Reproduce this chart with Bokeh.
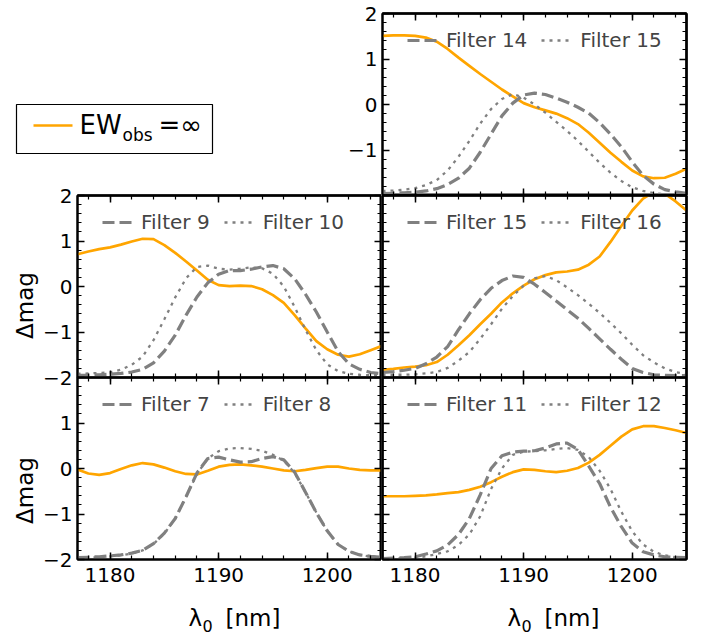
import math
from bokeh.plotting import figure
from bokeh.models import Range1d, LinearAxis, FixedTicker, Legend, LegendItem, Label
from bokeh.layouts import row, column
from bokeh.core.properties import value
from bokeh.embed import file_html
from bokeh.resources import INLINE

FONT = "DejaVu Sans"
ORANGE = "#FFA500"
GRAY = "#808080"

# ---------------- data ----------------
wavelength = [1177, 1178, 1179, 1180, 1181, 1182, 1183, 1184, 1185, 1186,
              1187, 1188, 1189, 1190, 1191, 1192, 1193, 1194, 1195, 1196,
              1197, 1198, 1199, 1200, 1201, 1202, 1203, 1204, 1205]

# top-right panel
ew_tr = [1.51, 1.52, 1.52, 1.51, 1.47, 1.38, 1.22, 1.03, 0.85, 0.67, 0.50, 0.33, 0.18, 0.03,
         -0.06, -0.13, -0.20, -0.30, -0.43, -0.62, -0.84, -1.06, -1.26, -1.45, -1.58, -1.62,
         -1.61, -1.52, -1.41]
filter14 = [-1.96, -1.95, -1.94, -1.93, -1.90, -1.85, -1.76, -1.62, -1.40, -1.05, -0.65, -0.25,
            0.03, 0.21, 0.25, 0.22, 0.14, 0.05, -0.06, -0.19, -0.40, -0.65, -0.93, -1.26, -1.56,
            -1.75, -1.87, -1.92, -1.95]
filter15_tr = [-1.90, -1.89, -1.87, -1.84, -1.77, -1.66, -1.45, -1.15, -0.80, -0.42, -0.10, 0.12,
               0.23, 0.15, 0.00, -0.18, -0.38, -0.58, -0.80, -1.04, -1.28, -1.50, -1.68, -1.82,
               -1.90, -1.95, -1.97, -1.98, -1.98]

# middle-left panel
ew_ml = [0.71, 0.77, 0.82, 0.86, 0.92, 0.99, 1.05, 1.04, 0.91, 0.74, 0.55, 0.35, 0.15, 0.03, 0.01,
         0.02, 0.01, -0.06, -0.19, -0.36, -0.63, -0.92, -1.20, -1.38, -1.50, -1.54, -1.49, -1.40,
         -1.31]
filter9 = [-1.95, -1.95, -1.94, -1.93, -1.91, -1.88, -1.82, -1.68, -1.42, -1.07, -0.63, -0.23, 0.08,
           0.27, 0.35, 0.35, 0.38, 0.43, 0.46, 0.39, 0.17, -0.17, -0.56, -1.00, -1.43, -1.70, -1.82,
           -1.89, -1.92]
filter10 = [-1.92, -1.91, -1.90, -1.89, -1.83, -1.72, -1.54, -1.18, -0.72, -0.24, 0.18, 0.43, 0.46,
            0.39, 0.37, 0.39, 0.42, 0.40, 0.28, 0.00, -0.45, -0.95, -1.40, -1.71, -1.86, -1.92,
            -1.94, -1.95, -1.95]

# middle-right panel
ew_mr = [-1.83, -1.81, -1.78, -1.76, -1.73, -1.66, -1.50, -1.29, -1.07, -0.83, -0.60, -0.35, -0.15,
         0.02, 0.16, 0.25, 0.31, 0.33, 0.37, 0.48, 0.66, 0.98, 1.33, 1.67, 1.93, 2.08, 2.04, 1.87,
         1.67]
filter15_mr = [-1.89, -1.87, -1.84, -1.80, -1.70, -1.55, -1.32, -0.95, -0.60, -0.29, -0.04, 0.13,
               0.23, 0.20, 0.05, -0.13, -0.32, -0.51, -0.70, -0.92, -1.15, -1.38, -1.60, -1.80,
               -1.89, -1.94, -1.95, -1.96, -1.96]
filter16 = [-1.94, -1.94, -1.94, -1.93, -1.91, -1.88, -1.79, -1.63, -1.44, -1.15, -0.83, -0.49,
            -0.21, 0.02, 0.18, 0.23, 0.14, -0.02, -0.19, -0.38, -0.58, -0.80, -1.03, -1.28, -1.51,
            -1.67, -1.80, -1.88, -1.93]

# bottom-left panel
ew_bl = [-0.02, -0.11, -0.14, -0.10, -0.01, 0.07, 0.12, 0.09, 0.02, -0.06, -0.12, -0.13, -0.05,
         0.04, 0.08, 0.09, 0.07, 0.04, 0.00, -0.04, -0.06, -0.03, 0.01, 0.04, 0.04, 0.00, -0.03,
         -0.04, -0.04]
filter7 = [-1.96, -1.95, -1.94, -1.92, -1.90, -1.86, -1.80, -1.65, -1.42, -1.10, -0.62, -0.10, 0.22,
           0.25, 0.19, 0.14, 0.15, 0.22, 0.26, 0.19, -0.08, -0.52, -0.97, -1.37, -1.67, -1.82,
           -1.90, -1.93, -1.95]
filter8 = [-1.97, -1.96, -1.95, -1.93, -1.91, -1.87, -1.80, -1.66, -1.43, -1.10, -0.62, -0.12, 0.22,
           0.38, 0.44, 0.45, 0.43, 0.39, 0.30, 0.17, -0.10, -0.52, -0.97, -1.37, -1.67, -1.82,
           -1.90, -1.94, -1.96]

# bottom-right panel
ew_br = [-0.61, -0.61, -0.61, -0.60, -0.59, -0.57, -0.54, -0.52, -0.47, -0.40, -0.30, -0.18, -0.08,
         -0.02, -0.03, -0.06, -0.08, -0.05, 0.01, 0.13, 0.30, 0.50, 0.70, 0.86, 0.93, 0.93, 0.89,
         0.84, 0.78]
filter11 = [-1.98, -1.97, -1.96, -1.94, -1.88, -1.81, -1.68, -1.45, -1.10, -0.58, 0.00, 0.28, 0.36,
            0.38, 0.39, 0.45, 0.54, 0.56, 0.42, 0.05, -0.33, -0.85, -1.28, -1.64, -1.83, -1.90,
            -1.94, -1.95, -1.96]
filter12 = [-1.98, -1.98, -1.97, -1.96, -1.93, -1.88, -1.82, -1.68, -1.45, -1.05, -0.45, 0.00, 0.30,
            0.37, 0.38, 0.40, 0.43, 0.45, 0.41, 0.25, -0.05, -0.45, -0.95, -1.38, -1.67, -1.83,
            -1.91, -1.95, -1.96]

# ticks and labels
x_major = [1180, 1190, 1200]
x_minor = [1178, 1180, 1182, 1184, 1186, 1188, 1190, 1192, 1194, 1196, 1198, 1200, 1202, 1204]
y_major = [-2, -1, 0, 1, 2]
y_minor = [-2.0, -1.8, -1.6, -1.4, -1.2, -1.0, -0.8, -0.6, -0.4, -0.2, 0.0,
           0.2, 0.4, 0.6, 0.8, 1.0, 1.2, 1.4, 1.6, 1.8, 2.0]
y_major_tr = [-1, 0, 1, 2]        # labelled ticks of the top-right panel
y_major_bl = [-2, -1, 0, 1]       # labelled ticks of the bottom-left panel
y_label_map = {2: "2", 1: "1", 0: "0", -1: "\u22121", -2: "\u22122"}
x_label_parts = ["\u03bb", "0", "[nm]"]
y_label_text = "\u0394mag"
legend_text_main = ["EW", "obs", "=\u221e"]


def base_axis(ax):
    ax.axis_line_width = 2
    ax.axis_line_color = "black"
    ax.major_tick_out = 0
    ax.minor_tick_out = 0
    ax.major_tick_line_color = "black"
    ax.minor_tick_line_color = "black"
    ax.major_label_standoff = 0


def labelled_axis(ticks, minor, standoff, overrides=None):
    ax = LinearAxis(ticker=FixedTicker(ticks=ticks, minor_ticks=minor))
    base_axis(ax)
    ax.major_tick_in = 7
    ax.minor_tick_in = 4
    ax.major_tick_line_width = 1.5
    ax.minor_tick_line_width = 1.2
    ax.major_label_text_font = FONT
    ax.major_label_text_font_size = "20px"
    ax.major_label_text_color = "black"
    ax.major_label_standoff = standoff
    if overrides is not None:
        ax.major_label_overrides = overrides
    return ax


def tick_only_axis(positions, length, width):
    ax = LinearAxis(ticker=FixedTicker(ticks=[], minor_ticks=positions))
    base_axis(ax)
    ax.major_tick_in = 0
    ax.minor_tick_in = length
    ax.minor_tick_line_width = width
    return ax


def add_unlabelled_side(p, side, major, minor):
    p.add_layout(tick_only_axis(major, 7, 1.5), side)
    p.add_layout(tick_only_axis(minor, 4, 1.2), side)


def panel(ew, fa, fb, la, lb, width, height, bl, br, bt, bb,
          xlabels=False, yticks=None, margin=None):
    kw = {}
    if margin is not None:
        kw["margin"] = margin
    p = figure(width=width, height=height,
               x_range=Range1d(1177, 1205), y_range=Range1d(-2, 2),
               output_backend="svg", toolbar_location=None,
               x_axis_location=None, y_axis_location=None,
               min_border_left=bl, min_border_right=br,
               min_border_top=bt, min_border_bottom=bb, **kw)
    p.xgrid.visible = False
    p.ygrid.visible = False
    p.outline_line_color = "black"
    p.outline_line_width = 2
    p.background_fill_color = "white"
    p.border_fill_alpha = 0

    if xlabels:
        p.add_layout(labelled_axis(x_major, x_minor, 8), "below")
    else:
        add_unlabelled_side(p, "below", x_major, x_minor)
    add_unlabelled_side(p, "above", x_major, x_minor)
    if yticks is not None:
        p.add_layout(labelled_axis(yticks, y_minor, 5, {t: y_label_map[t] for t in yticks}), "left")
    else:
        add_unlabelled_side(p, "left", y_major, y_minor)
    add_unlabelled_side(p, "right", y_major, y_minor)

    p.line(wavelength, ew, line_color=ORANGE, line_width=2.7)
    r1 = p.line(wavelength, fa, line_color=GRAY, line_width=3.2, line_dash="12 5")
    r2 = p.line(wavelength, fb, line_color=GRAY, line_width=2.3, line_dash="3 5")

    leg = Legend(items=[LegendItem(label=value(la), renderers=[r1]),
                        LegendItem(label=value(lb), renderers=[r2])],
                 orientation="horizontal", location=(25, 143),
                 border_line_alpha=0, background_fill_alpha=0,
                 label_text_font=FONT, label_text_font_size="20px",
                 glyph_width=30, glyph_height=24, label_height=24,
                 label_standoff=9, spacing=14, padding=0, margin=0)
    p.add_layout(leg)
    return p


def blank(width, height, xr, yr, bt=0):
    f = figure(width=width, height=height, x_range=Range1d(*xr), y_range=Range1d(*yr),
               output_backend="svg", toolbar_location=None,
               x_axis_location=None, y_axis_location=None,
               min_border_left=0, min_border_right=0, min_border_top=bt, min_border_bottom=0)
    f.outline_line_color = None
    f.xgrid.visible = False
    f.ygrid.visible = False
    f.border_fill_alpha = 0
    f.background_fill_alpha = 0
    return f


def txt(f, x, y, s, size, **kw):
    f.add_layout(Label(x=x, y=y, text=s, text_font=FONT, text_font_size=size,
                       text_color="black", **kw))


# ---------------- legend block (top-left), pixel coordinates ----------------
lg = blank(344, 195, (0, 344), (195, 13), bt=13)
lg.quad(left=16, right=212, top=104, bottom=153, fill_color="white",
        line_color="black", line_width=1.2)
lg.line([33, 72], [125, 125], line_color=ORANGE, line_width=2.7)
txt(lg, 79, 124, legend_text_main[0], "26px", text_baseline="alphabetic")
txt(lg, 122, 134, legend_text_main[1], "17px", text_baseline="alphabetic")
txt(lg, 158, 124, legend_text_main[2], "26px", text_baseline="alphabetic")

# ---------------- y-axis titles strip (left), pixel coordinates ----------------
ystrip = blank(40, 413, (0, 40), (596, 183))
txt(ystrip, 24, 305, y_label_text, "23px", angle=math.pi / 2,
    text_align="center", text_baseline="middle")
txt(ystrip, 24, 490, y_label_text, "23px", angle=math.pi / 2,
    text_align="center", text_baseline="middle")

# ---------------- x-axis titles strip (bottom), pixel coordinates ----------------
xstrip = blank(713, 40, (0, 713), (636, 596))
for x0 in (188, 507):
    txt(xstrip, x0, 617, x_label_parts[0], "23px", text_baseline="alphabetic")
    txt(xstrip, x0 + 14, 625, x_label_parts[1], "16px", text_baseline="alphabetic")
    txt(xstrip, x0 + 37, 617, x_label_parts[2], "23px", text_baseline="alphabetic")

# ---------------- panels ----------------
tr = panel(ew_tr, filter14, filter15_tr, "Filter 14", "Filter 15",
           369, 195, 38, 27, 13, 0, yticks=y_major_tr)
ml = panel(ew_ml, filter9, filter10, "Filter 9", "Filter 10",
           341, 206, 37, 0, 12, 12, yticks=y_major)
mr = panel(ew_mr, filter15_mr, filter16, "Filter 15", "Filter 16",
           332, 206, 1, 27, 12, 12)
bl = panel(ew_bl, filter7, filter8, "Filter 7", "Filter 8",
           341, 219, 37, 0, 0, 37, xlabels=True, yticks=y_major_bl,
           margin=(-12, 0, 0, 0))
br = panel(ew_br, filter11, filter12, "Filter 11", "Filter 12",
           332, 219, 1, 27, 0, 37, xlabels=True, margin=(-12, 0, 0, 0))

row0 = row(lg, tr)
row12 = row(ystrip, column(ml, bl), column(mr, br), margin=(-12, 0, 0, 0))
root = column(row0, row12, xstrip)

open("out.html", "w").write(file_html(root, INLINE))
